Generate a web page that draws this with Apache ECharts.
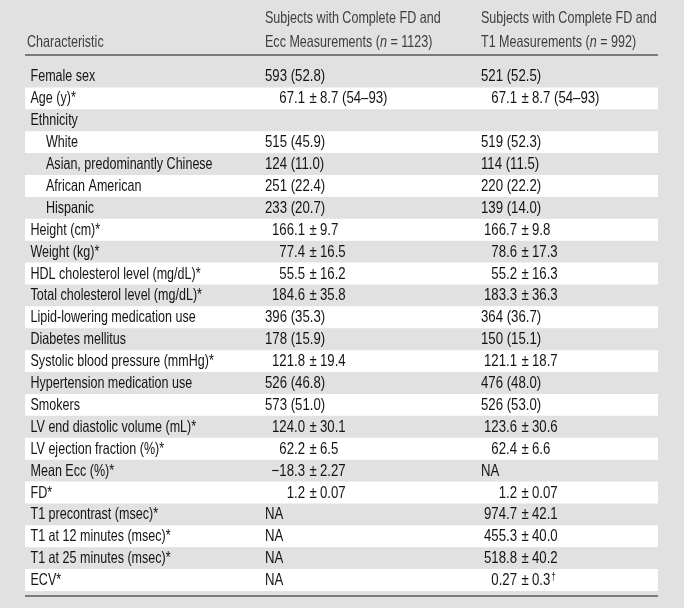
<!DOCTYPE html>
<html>
<head>
<meta charset="utf-8">
<title>Characteristics table</title>
<script src="https://cdn.jsdelivr.net/npm/echarts@6/dist/echarts.min.js"></script>
<style>
  html, body { margin: 0; padding: 0; background: #e1e1e1; }
  #main { width: 684px; height: 608px; }
</style>
</head>
<body>
<div id="main"></div>
<script>
// row labels
const characteristics = [
  "Female sex", "Age (y)*", "Ethnicity", "White", "Asian, predominantly Chinese",
  "African American", "Hispanic", "Height (cm)*", "Weight (kg)*",
  "HDL cholesterol level (mg/dL)*", "Total cholesterol level (mg/dL)*",
  "Lipid-lowering medication use", "Diabetes mellitus",
  "Systolic blood pressure (mmHg)*", "Hypertension medication use", "Smokers",
  "LV end diastolic volume (mL)*", "LV ejection fraction (%)*", "Mean Ecc (%)*",
  "FD*", "T1 precontrast (msec)*", "T1 at 12 minutes (msec)*",
  "T1 at 25 minutes (msec)*", "ECV*"
];
// sub rows (ethnicity groups) are indented
const indentLevel = [0, 0, 0, 1, 1, 1, 1, 0, 0, 0, 0, 0, 0, 0, 0, 0, 0, 0, 0, 0, 0, 0, 0, 0];

// column headers
const columnHeaders = [
  ["", "Characteristic"],
  ["Subjects with Complete FD and", "Ecc Measurements ({i|n} = 1123)"],
  ["Subjects with Complete FD and", "T1 Measurements ({i|n} = 992)"]
];

// values, group with FD + Ecc
const eccValues = [
  "593 (52.8)", "67.1 ± 8.7 (54–93)", "", "515 (45.9)", "124 (11.0)", "251 (22.4)",
  "233 (20.7)", "166.1 ± 9.7", "77.4 ± 16.5", "55.5 ± 16.2", "184.6 ± 35.8",
  "396 (35.3)", "178 (15.9)", "121.8 ± 19.4", "526 (46.8)", "573 (51.0)",
  "124.0 ± 30.1", "62.2 ± 6.5", "−18.3 ± 2.27", "1.2 ± 0.07", "NA", "NA", "NA", "NA"
];
// values, group with FD + T1
const t1Values = [
  "521 (52.5)", "67.1 ± 8.7 (54–93)", "", "519 (52.3)", "114 (11.5)", "220 (22.2)",
  "139 (14.0)", "166.7 ± 9.8", "78.6 ± 17.3", "55.2 ± 16.3", "183.3 ± 36.3",
  "364 (36.7)", "150 (15.1)", "121.1 ± 18.7", "476 (48.0)", "526 (53.0)",
  "123.6 ± 30.6", "62.4 ± 6.6", "NA", "1.2 ± 0.07", "974.7 ± 42.1",
  "455.3 ± 40.0", "518.8 ± 40.2", "0.27 ± 0.3†"
];

// no narrow font installed -> squeeze Liberation Sans horizontally
const FONT = '"Liberation Sans", Arial, sans-serif';
const FONT_SIZE = 16.5;
const SQUEEZE = 0.76;      // labels, headers
const NUM_SQUEEZE = 0.8;   // digits are a bit wider in the original
const TEXT_COLOR = "#141414";
const HEAD_COLOR = "#3e3e3e";

// x offsets inside the grid (grid starts at x = 25)
const labelX = 5.5;
const indentX = 21;
const colStart = [240, 456];   // plain values start here
const pmAnchor = [280, 492];   // numbers before "±" end here

const chart = echarts.init(document.getElementById("main"));

// one text piece, squeezed around its anchor
function txt(x, y, text, align, squeeze, extra) {
  return {
    type: "text",
    x: x, y: y,
    scaleX: squeeze,
    style: Object.assign({
      x: 0, y: 0, text: text,
      align: align, verticalAlign: "middle",
      font: FONT_SIZE + "px " + FONT,
      fill: TEXT_COLOR
    }, extra || {})
  };
}

// value cell: "±" values are aligned on the sign
function valueCell(value, col, x0, y) {
  if (!value) return [];
  if (value.indexOf(" ± ") < 0) {
    return [txt(x0 + colStart[col], y, value, "left", NUM_SQUEEZE)];
  }
  const parts = value.split(" ± ");
  let rest = parts[1];
  const a = x0 + pmAnchor[col];
  const out = [
    txt(a, y, parts[0], "right", NUM_SQUEEZE),
    txt(a + 4.5, y, "±", "left", NUM_SQUEEZE)
  ];
  if (rest.slice(-1) === "†") {
    rest = rest.slice(0, -1) + "{sup|†}";
  }
  out.push(txt(a + 15, y, rest, "left", NUM_SQUEEZE, {
    rich: { sup: { font: "10px " + FONT, fill: TEXT_COLOR, verticalAlign: "top", padding: [0, 0, 6, 1] } }
  }));
  return out;
}

function renderRow(params, api) {
  const idx = api.value(0);
  const center = api.coord([0, idx]);
  const size = api.size([1, 1]);
  const x0 = params.coordSys.x;
  const w = params.coordSys.width;
  const h = size[1];
  const y = center[1];
  const children = [];
  // alternate rows are white
  if (idx % 2 === 1) {
    children.push({
      type: "rect",
      shape: { x: x0, y: y - h / 2, width: w, height: h },
      style: { fill: "#ffffff" }
    });
  }
  children.push(txt(x0 + (indentLevel[idx] ? indentX : labelX), y + 0.5, characteristics[idx], "left", SQUEEZE));
  Array.prototype.push.apply(children, valueCell(eccValues[idx], 0, x0, y + 0.5));
  Array.prototype.push.apply(children, valueCell(t1Values[idx], 1, x0, y + 0.5));
  return { type: "group", children: children };
}

// header texts and rules
const headerX = [27, 265, 481];
const headerGraphics = [];
columnHeaders.forEach(function (lines, c) {
  lines.forEach(function (line, l) {
    if (!line) return;
    headerGraphics.push({
      type: "text",
      x: headerX[c],
      y: l === 0 ? 18 : 42,
      scaleX: SQUEEZE,
      style: {
        x: 0, y: 0,
        text: line,
        verticalAlign: "middle",
        font: FONT_SIZE + "px " + FONT,
        fill: HEAD_COLOR,
        rich: { i: { font: "italic " + FONT_SIZE + "px " + FONT, fill: HEAD_COLOR } }
      }
    });
  });
});
[55, 596].forEach(function (yy) {
  headerGraphics.push({
    type: "line",
    shape: { x1: 25, y1: yy, x2: 658, y2: yy },
    style: { stroke: "#7b7b7b", lineWidth: 2 }
  });
});

chart.setOption({
  backgroundColor: "#e1e1e1",
  animation: false,
  grid: { left: 25, right: 26, top: 65.5, bottom: 17 },
  xAxis: { type: "value", min: 0, max: 1, show: false },
  yAxis: {
    type: "category",
    data: characteristics,
    inverse: true,
    show: false
  },
  graphic: headerGraphics,
  series: [{
    type: "custom",
    renderItem: renderRow,
    data: characteristics.map(function (c, i) { return [i]; }),
    encode: { y: 0 },
    silent: true
  }]
});
</script>
</body>
</html>
